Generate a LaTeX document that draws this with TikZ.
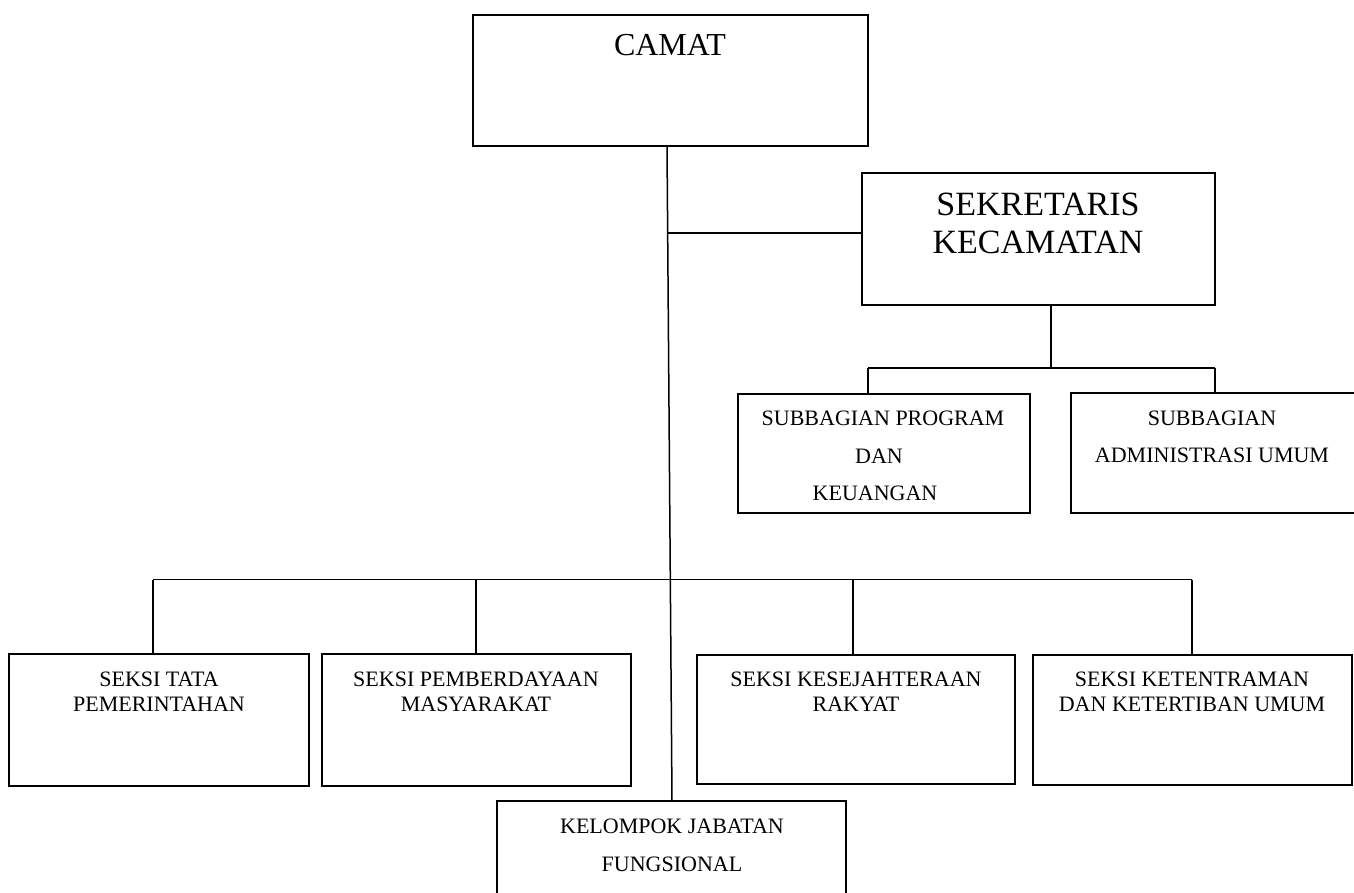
\documentclass[tikz,border=0pt]{standalone}
\usepackage{fontspec}
\setmainfont{Liberation Serif}
\begin{document}
\begin{tikzpicture}[x=1pt,y=-1pt,
  box/.style={draw=black,line width=2pt},
  conn/.style={draw=black,line width=1.5pt},
  small/.style={anchor=base,inner sep=0pt,font=\fontsize{22}{25}\selectfont}]
\useasboundingbox (0,0) rectangle (1354,892);
% boxes
\draw[box] (473,15) rectangle (868,146) node[pos=0.5,inner sep=0] (camat) {};
\draw[box] (862,173) rectangle (1215,305) node[pos=0.5,inner sep=0] (sek) {};
\draw[box] (738,394) rectangle (1030,513) node[pos=0.5,inner sep=0] (sub1) {};
\draw[box] (1071,393) rectangle (1366,513) node[pos=0.5,inner sep=0] (sub2) {};
\draw[box] (9,654) rectangle (309,786) node[pos=0.5,inner sep=0] (s1) {};
\draw[box] (322,654) rectangle (631,786) node[pos=0.5,inner sep=0] (s2) {};
\draw[box] (697,655) rectangle (1015,784) node[pos=0.5,inner sep=0] (s3) {};
\draw[box] (1033,655) rectangle (1352,785) node[pos=0.5,inner sep=0] (s4) {};
\draw[box] (497,801) rectangle (846,900) node[pos=0.5,inner sep=0] (kel) {};
% texts
\node[font=\fontsize{32}{38}\selectfont,anchor=base,inner sep=0pt] (t-camat) at (670,55) {CAMAT};
\node[font=\fontsize{34}{38}\selectfont,anchor=base,inner sep=0pt] (t-sek1) at (1038,215) {SEKRETARIS};
\node[font=\fontsize{34}{38}\selectfont,anchor=base,inner sep=0pt] (t-sek2) at (1038,253) {KECAMATAN};
\node[small] (t-sub1a) at (883,425) {SUBBAGIAN PROGRAM};
\node[small] (t-sub1b) at (879,463) {DAN};
\node[small] (t-sub1c) at (875,500) {KEUANGAN};
\node[small] (t-sub2a) at (1212,425) {SUBBAGIAN};
\node[small] (t-sub2b) at (1212,462) {ADMINISTRASI UMUM};
\node[small] (t-s1a) at (159,686) {SEKSI TATA};
\node[small] (t-s1b) at (159,711) {PEMERINTAHAN};
\node[small] (t-s2a) at (476,686) {SEKSI PEMBERDAYAAN};
\node[small] (t-s2b) at (476,711) {MASYARAKAT};
\node[small] (t-s3a) at (856,686) {SEKSI KESEJAHTERAAN};
\node[small] (t-s3b) at (856,711) {RAKYAT};
\node[small] (t-s4a) at (1192,686) {SEKSI KETENTRAMAN};
\node[small] (t-s4b) at (1192,711) {DAN KETERTIBAN UMUM};
\node[small] (t-kela) at (672,833) {KELOMPOK JABATAN};
\node[small] (t-kelb) at (672,871) {FUNGSIONAL};
% connector points
\coordinate (trtop) at (667,146);
\coordinate (trbot) at (672,801);
\coordinate (jsek) at (667.7,233);
\coordinate (sekin) at (862,233);
\coordinate (sekout) at (1051,305);
\coordinate (sbus) at (1051,368);
\coordinate (sbl) at (868,368);
\coordinate (sbr) at (1215,368);
\coordinate (sub1in) at (868,394);
\coordinate (sub2in) at (1215,393);
\coordinate (busl) at (153,579.5);
\coordinate (busr) at (1192,579.5);
\coordinate (b2) at (476,579.5);
\coordinate (b3) at (853,579.5);
\coordinate (s1in) at (153,654);
\coordinate (s2in) at (476,654);
\coordinate (s3in) at (853,655);
\coordinate (s4in) at (1192,655);
% connectors
\draw[conn] (trtop) -- (trbot);
\draw[conn] (jsek) -- (sekin);
\draw[conn] (sekout) -- (sbus);
\draw[conn] (sbl) -- (sbr);
\draw[conn] (sbl) -- (sub1in);
\draw[conn] (sbr) -- (sub2in);
\draw[conn] (busl) -- (busr);
\draw[conn] (busl) -- (s1in);
\draw[conn] (b2) -- (s2in);
\draw[conn] (b3) -- (s3in);
\draw[conn] (busr) -- (s4in);
\end{tikzpicture}
\end{document}
